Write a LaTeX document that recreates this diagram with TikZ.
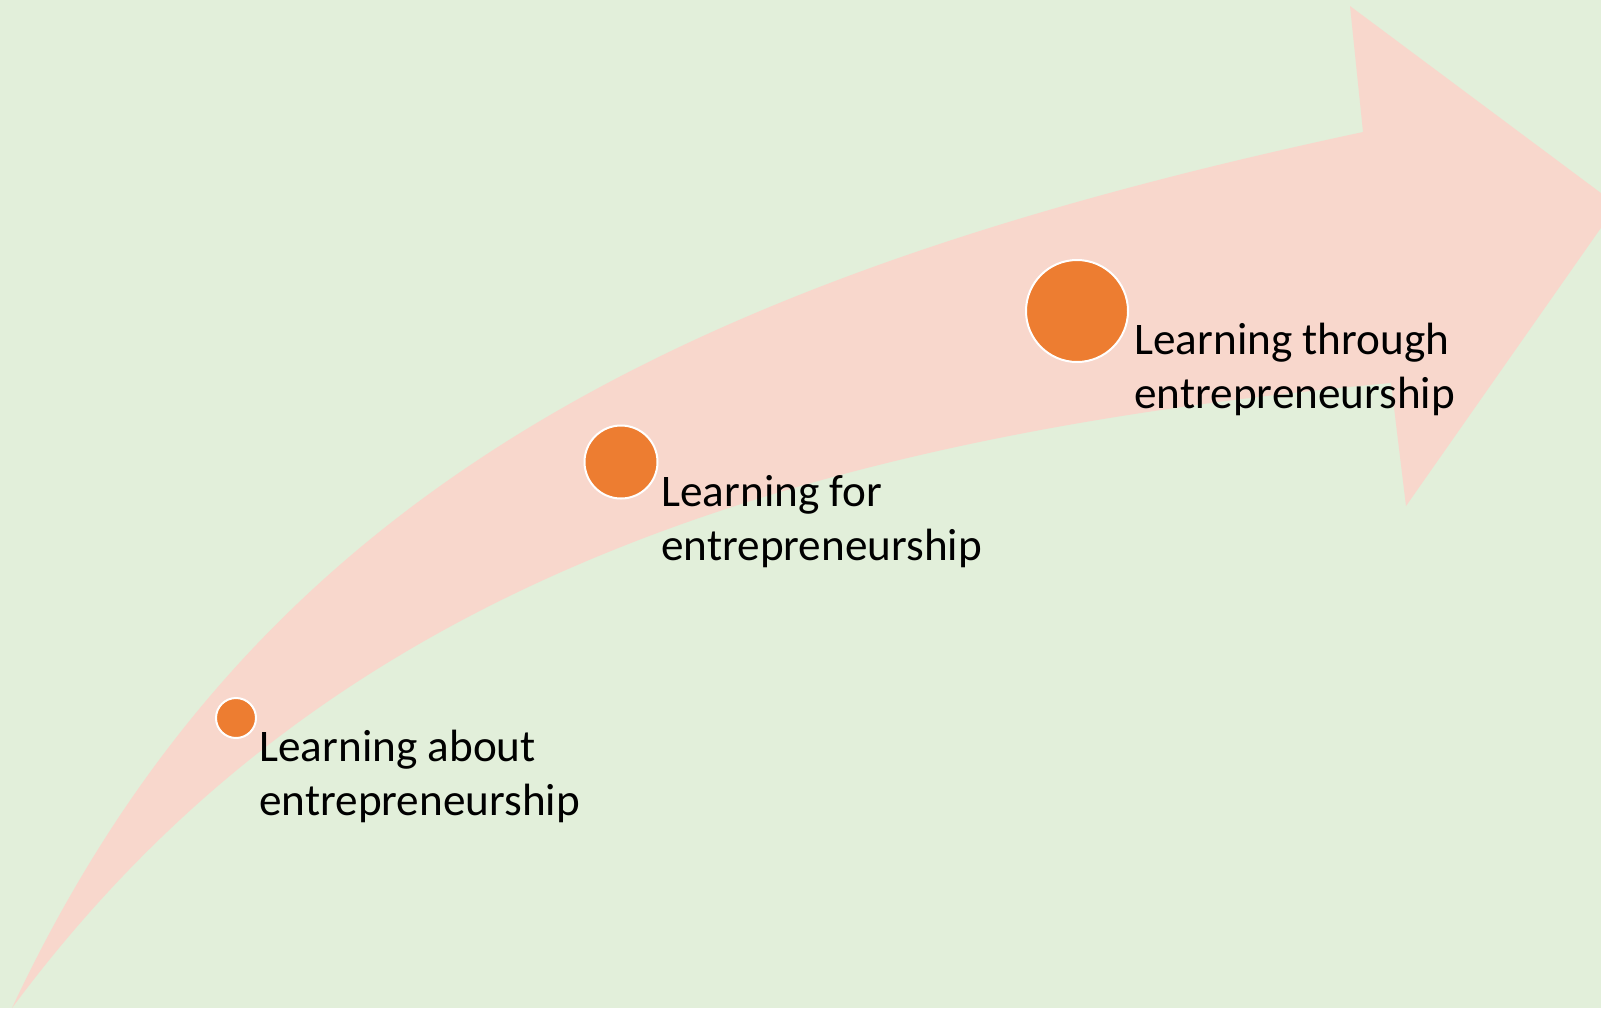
\documentclass[tikz,border=0pt]{standalone}
\usepackage{fontspec}
\setmainfont{Carlito}
\usepackage{tikz}
\usetikzlibrary{calc}

\definecolor{bggreen}{HTML}{E2EFDA}
\definecolor{arrowpink}{HTML}{F8D7CC}
\definecolor{dotorange}{HTML}{ED7D31}

\tikzset{
  dot/.style={circle, fill=dotorange, draw=white, line width=1pt, inner sep=0pt},
  steptext/.style={anchor=base west, align=left, inner sep=0pt, text=black,
    font=\fontsize{22.6}{27}\selectfont}
}

\begin{document}
\begin{tikzpicture}[x=0.5pt,y=-0.5pt]

\useasboundingbox (0,0) rectangle (1601,1008);
\clip (0,0) rectangle (1601,1008);
\fill[bggreen] (0,0) rectangle (1601,1008);

% the curved arrow
\fill[arrowpink] (12,1008) .. controls (250,500) and (670,280) .. (1363,132)
  -- (1350,6) -- (1617,205) -- (1406,506) -- (1391,383)
  .. controls (705,445) and (292,631) .. (12,1008) -- cycle;

% the three steps
\node[dot, minimum size=20pt] (dotabout) at (236,718) {};
\node[dot, minimum size=36.5pt] (dotfor) at (621,462) {};
\node[dot, minimum size=51pt] (dotthrough) at (1077,311) {};

\node[steptext] (txtabout) at (259,815) {Learning about\\entrepreneurship};
\node[steptext] (txtfor) at (661,560) {Learning for\\entrepreneurship};
\node[steptext] (txtthrough) at (1134,408) {Learning through\\entrepreneurship};

\end{tikzpicture}
\end{document}
